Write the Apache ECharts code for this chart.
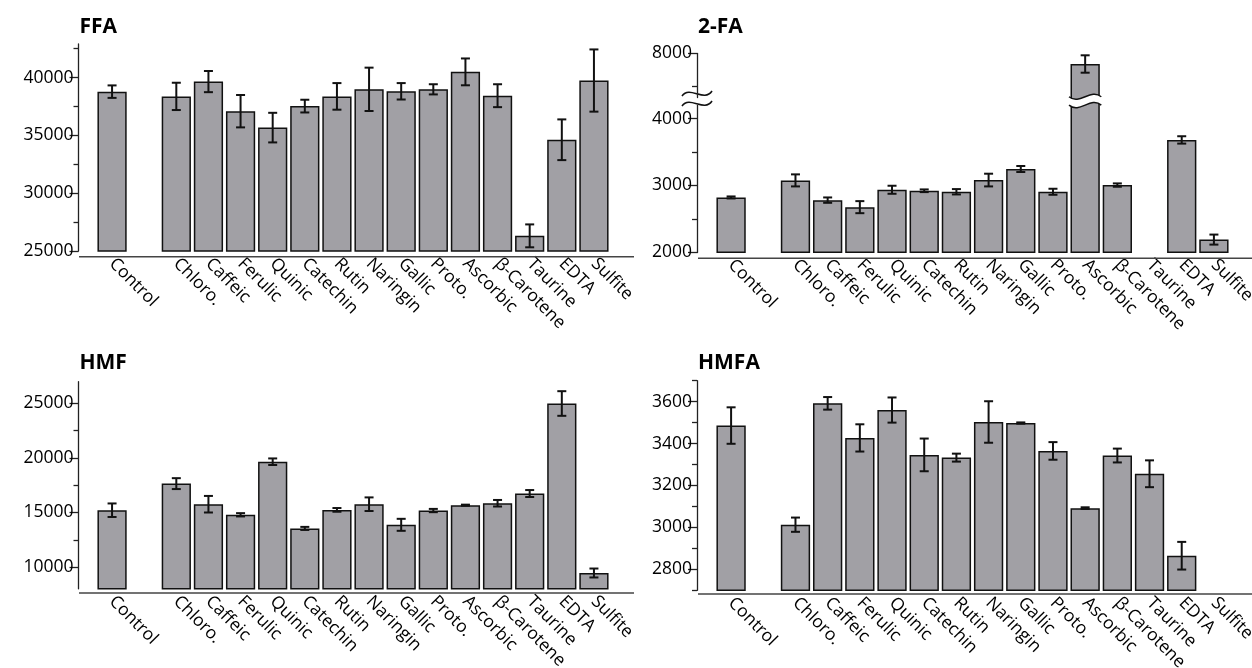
<!DOCTYPE html>
<html><head><meta charset="utf-8">
<script src="https://cdn.jsdelivr.net/npm/echarts@6/dist/echarts.min.js"></script>
<style>html,body{margin:0;padding:0;background:#fff}#c{width:1252px;height:668px}</style>
</head><body><div id="c"></div>
<script>
// ---------- data ----------
const categories = ['Control','','Chloro.','Caffeic','Ferulic','Quinic','Catechin','Rutin','Naringin','Gallic','Proto.','Ascorbic','β-Carotene','Taurine','EDTA','Sulfite'];

const ffaMean = [38780,null,38370,39650,37090,35670,37530,38370,38980,38810,38980,40490,38430,26310,34620,39740];
const ffaErr  = [540,null,1180,915,1400,1280,550,1150,1875,710,440,1160,990,990,1760,2690];

const faMean  = [2820,null,3075,2780,2675,2935,2920,2905,3080,3245,2905,7840,3005,null,3680,2190];
const faErr   = [15,null,90,40,90,60,20,40,95,45,45,130,25,null,55,75];

const hmfMean = [15210,null,17650,15760,14790,19660,13540,15240,15760,13870,15180,15670,15850,16740,25000,9450];
const hmfErr  = [620,null,500,760,150,300,140,170,625,550,150,50,300,320,1130,410];

const hmfaMean = [3486,null,3013,3592,3427,3560,3346,3333,3503,3498,3365,3092,3343,3256,2865,null];
const hmfaErr  = [87,null,34,30,65,60,78,19,99,3,42,4,33,64,66,null];

const ffaTicks  = [25000,30000,35000,40000];
const ffaMinor  = [27500,32500,37500,42500];
const faTicks   = [2000,3000,4000,8000];
const faMinor   = [2500,3500,7500];
const hmfTicks  = [10000,15000,20000,25000];
const hmfMinor  = [12500,17500,22500];
const hmfaTicks = [2800,3000,3200,3400,3600];
const hmfaMinor = [2700,2900,3100,3300,3500,3700];

// ---------- layout ----------
const FONT = 'Open Sans';
const BAR = '#a1a0a5';
const panels = [
  {title:'FFA',  mean:ffaMean,  err:ffaErr,  min:25000, max:42900, ticks:ffaTicks,  minor:ffaMinor,
   left:96,  top:44,    width:514, height:207,   axisX:78.5, lineY:256.7, lineX1:79,  lineX2:634,  titleTop:12},
  {title:'2-FA', mean:faMean,   err:faErr,   min:2000,  max:8000,  ticks:faTicks,   minor:faMinor,
   left:715, top:53.3,  width:515, height:199,   axisX:697,  lineY:258.3, lineX1:698, lineX2:1252, titleTop:12,
   brk:{start:4200, end:7350, gap:125}},
  {title:'HMF',  mean:hmfMean,  err:hmfErr,  min:8000,  max:27000, ticks:hmfTicks,  minor:hmfMinor,
   left:96,  top:381.7, width:514, height:207.1, axisX:78.5, lineY:593,   lineX1:79,  lineX2:634,  titleTop:348},
  {title:'HMFA', mean:hmfaMean, err:hmfaErr, min:2700,  max:3700,  ticks:hmfaTicks, minor:hmfaMinor,
   left:715, top:380.7, width:515, height:209.6, axisX:697,  lineY:594,   lineX1:698, lineX2:1252, titleTop:348}
];

const option = {
  animation:false,
  backgroundColor:'#fff',
  title:[], grid:[], xAxis:[], yAxis:[], series:[], graphic:[]
};

panels.forEach((p,i)=>{
  option.title.push({text:p.title, left:p.axisX-4, top:p.titleTop,
    textStyle:{fontFamily:FONT, fontSize:21, fontWeight:'bold', color:'#000'}});
  option.grid.push({left:p.left, top:p.top, width:p.width, height:p.height, outerBoundsMode:'none', containLabel:false});
  option.xAxis.push({gridIndex:i, type:'category', data:categories, boundaryGap:true,
    axisLine:{show:false}, axisTick:{show:false}, splitLine:{show:false},
    axisLabel:{interval:0, rotate:-45, fontFamily:FONT, fontSize:17.5, color:'#000', margin:10}});
  const off = p.left - p.axisX;
  const yMajor = {gridIndex:i, type:'value', min:p.min, max:p.max, position:'left', offset:off,
    axisLine:{show:true, lineStyle:{color:'#222', width:1.3}}, splitLine:{show:false},
    axisTick:{show:true, customValues:p.ticks, length:9, lineStyle:{color:'#222', width:1.3}},
    axisLabel:{customValues:p.ticks, formatter:v=>String(v), fontFamily:FONT, fontSize:17.5, color:'#000', margin:5}};
  const yMinor = {gridIndex:i, type:'value', min:p.min, max:p.max, position:'left', offset:off,
    axisLine:{show:false}, splitLine:{show:false},
    axisTick:{show:true, customValues:p.minor, length:5, lineStyle:{color:'#222', width:1.3}},
    axisLabel:{show:false}};
  if (p.brk){
    yMajor.breaks = [p.brk];
    yMajor.breakArea = {show:false};
    yMinor.breaks = [p.brk];
    yMinor.breakArea = {show:false};
  }
  option.yAxis.push(yMajor, yMinor);

  option.series.push({type:'bar', xAxisIndex:i, yAxisIndex:2*i, data:p.mean.map(v=>v==null?'-':v),
    barCategoryGap:'9%', itemStyle:{color:BAR, borderColor:'#111', borderWidth:1.5}, z:2});
  const ed = [];
  p.mean.forEach((m,k)=>{ if(m!=null && p.err[k]!=null) ed.push([k, m, p.err[k]]); });
  const brk = p.brk;
  option.series.push({type:'custom', xAxisIndex:i, yAxisIndex:2*i, data:ed, encode:{x:0,y:1}, z:5,
    renderItem:(params, api)=>{
      const x=api.value(0), m=api.value(1), e=api.value(2);
      const t=api.coord([x,m+e]), b=api.coord([x,m-e]);
      const hw=4.5, st={stroke:'#111', lineWidth:2};
      const ch = [];
      if (brk && m > brk.end){
        const bw = api.size([1,0])[0]*0.91;
        const xl = t[0]-bw/2-1.5, xr = t[0]+bw/2+1.5;
        const yT = api.coord([x, brk.end])[1], yB = api.coord([x, brk.start])[1];
        const w = xr-xl;
        const wave = (y)=>({x1:xl,y1:y,cpx1:xl+w/3,cpy1:y+9,cpx2:xl+2*w/3,cpy2:y-9,x2:xr,y2:y});
        ch.push({type:'path', shape:{pathData:
          `M${xl},${yT} C${xl+w/3},${yT+9} ${xl+2*w/3},${yT-9} ${xr},${yT} L${xr},${yB} C${xl+2*w/3},${yB-9} ${xl+w/3},${yB+9} ${xl},${yB} Z`},
          style:{fill:'#fff', stroke:null}});
        ch.push({type:'bezierCurve', shape:wave(yT), style:{stroke:'#111', lineWidth:1.5, fill:null}});
        ch.push({type:'bezierCurve', shape:wave(yB), style:{stroke:'#111', lineWidth:1.5, fill:null}});
      }
      ch.push(
        {type:'line', shape:{x1:t[0],y1:t[1],x2:b[0],y2:b[1]}, style:st},
        {type:'line', shape:{x1:t[0]-hw,y1:t[1],x2:t[0]+hw,y2:t[1]}, style:st},
        {type:'line', shape:{x1:b[0]-hw,y1:b[1],x2:b[0]+hw,y2:b[1]}, style:st});
      return {type:'group', children:ch};
    }});
  option.graphic.push({type:'line', shape:{x1:p.lineX1, y1:p.lineY, x2:p.lineX2, y2:p.lineY},
    style:{stroke:'#444', lineWidth:1.5}, z:10});
});

// axis-break mark on the 2-FA y axis
option.graphic.push({type:'group', z:20, children:[
  {type:'bezierCurve', shape:{x1:682,y1:96,cpx1:690,cpy1:85,cpx2:704,cpy2:103,x2:712,y2:91}, style:{stroke:'#111', lineWidth:1.6, fill:null}},
  {type:'bezierCurve', shape:{x1:682,y1:106,cpx1:690,cpy1:95,cpx2:704,cpy2:113,x2:712,y2:101}, style:{stroke:'#111', lineWidth:1.6, fill:null}}
]});

const chart = echarts.init(document.getElementById('c'), null, {renderer:'canvas'});
chart.setOption(option);
</script></body></html>
